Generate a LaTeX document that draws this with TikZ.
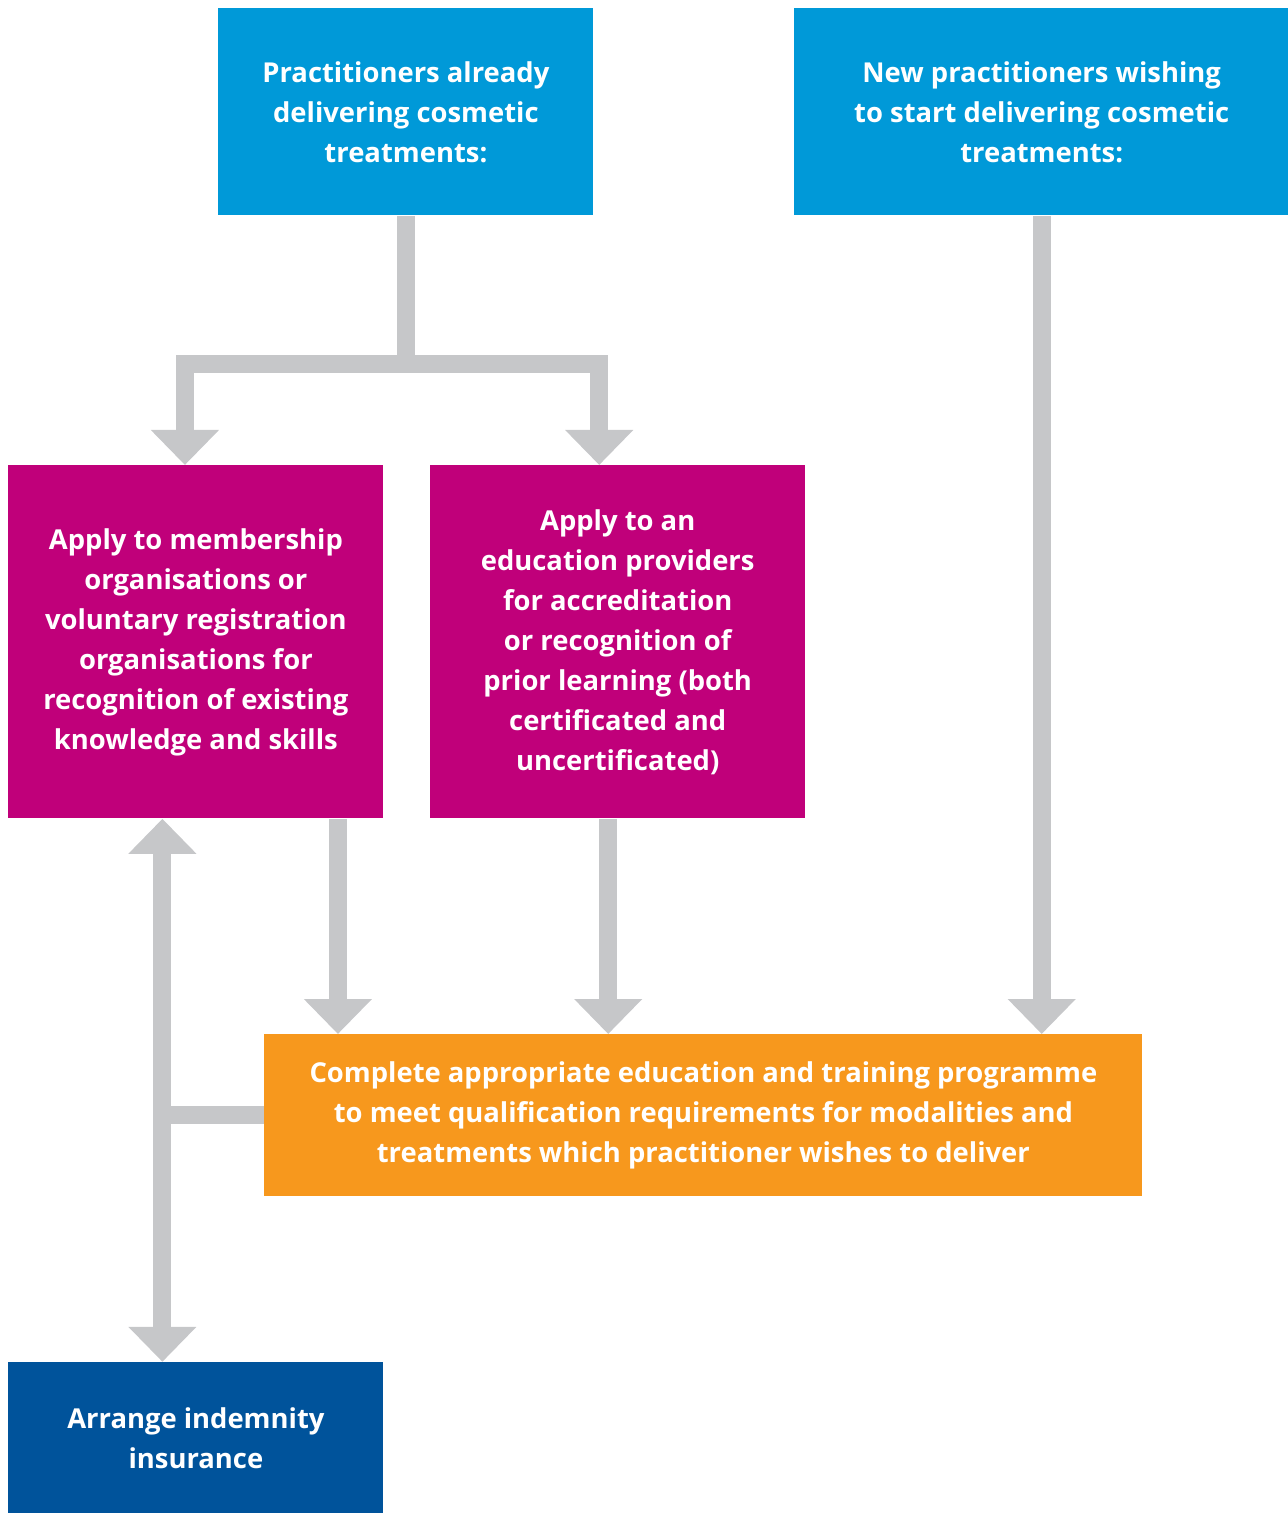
\documentclass[tikz,border=0pt]{standalone}
\usepackage{fontspec}
\setmainfont{Open Sans}
\usetikzlibrary{positioning,arrows.meta}

\definecolor{nhsblue}{RGB}{0,153,216}
\definecolor{nhsdark}{RGB}{0,83,155}
\definecolor{nhspink}{RGB}{192,0,122}
\definecolor{nhsorange}{RGB}{247,152,29}
\definecolor{flowgray}{RGB}{198,199,201}

\newcommand{\boxfont}{\fontsize{13.7}{20}\selectfont\bfseries}

\tikzset{
    flow/.style={draw=flowgray, line width=9pt, line join=miter},
    flowtip/.style={-{Triangle[width=33pt,length=17.5pt]}},
}

\begin{document}
\begin{tikzpicture}[x=0.5pt,y=-0.5pt,
  step box/.style n args={3}{rectangle, fill=#1, text=white, align=center, inner sep=0pt, font=\boxfont, minimum width=#2, minimum height=#3}]
  \useasboundingbox (0,0) rectangle (1288,1513);

  % starting points
  \node [step box={nhsblue}{187.5pt}{103.5pt}, anchor=north west] (prac) at (218,8)
    {Practitioners already\\delivering cosmetic\\treatments:};
  \node [step box={nhsblue}{247.5pt}{103.5pt}, right=100pt of prac.north east, anchor=north west] (newp)
    {New practitioners wishing\\to start delivering cosmetic\\treatments:};

  % recognition routes
  \node [step box={nhspink}{187.5pt}{176.5pt}, anchor=north west] (memb) at (8,465)
    {Apply to membership\\organisations or\\voluntary registration\\organisations for\\recognition of existing\\knowledge and skills};
  \node [step box={nhspink}{187.5pt}{176.5pt}, right=23pt of memb.north east, anchor=north west] (edu)
    {Apply to an\\education providers\\for accreditation\\or recognition of\\prior learning (both\\certificated and\\uncertificated)};

  \node [step box={nhsorange}{439pt}{81pt}, anchor=north west] (prog) at (264,1034)
    {Complete appropriate education and training programme\\to meet qualification requirements for modalities and\\treatments which practitioner wishes to deliver};

  \node [step box={nhsdark}{187.5pt}{76pt}, below=271.5pt of memb.south west, anchor=north west] (indem)
    {Arrange indemnity\\insurance};

  % FLECHAS
  \draw[flow] (prac.south) -- ++(0,148) coordinate (split);
  \draw[flow, flowtip] (split) -| ([xshift=-5.5pt]memb.north);
  \draw[flow, flowtip] (split) -| ([xshift=-9.25pt]edu.north);
  \draw[flow, flowtip] (newp.south) -- (newp.south |- prog.north);
  \draw[flow, flowtip] ([xshift=71pt]memb.south) coordinate (mdown) -- (mdown |- prog.north);
  \draw[flow, flowtip] ([xshift=-4.75pt]edu.south) coordinate (edown) -- (edown |- prog.north);
  \draw[flow, {Triangle[width=33pt,length=17.5pt]}-{Triangle[width=33pt,length=17.5pt]}]
    ([xshift=-16.75pt]memb.south) coordinate (up) -- (up |- indem.north);
  \draw[flow] (prog.west) -- (prog.west -| up);
\end{tikzpicture}
\end{document}
